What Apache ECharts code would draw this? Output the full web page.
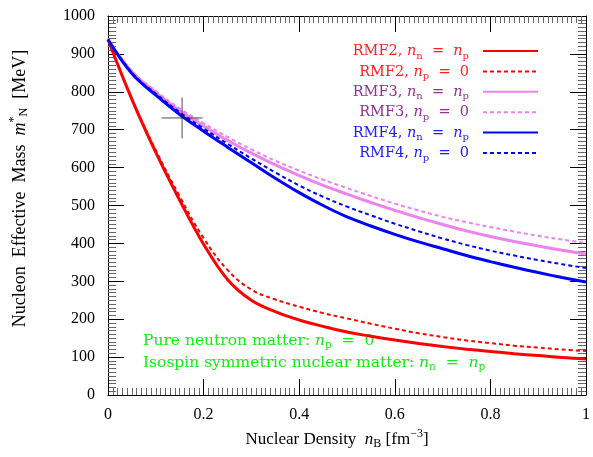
<!DOCTYPE html>
<html>
<head>
<meta charset="UTF-8">
<title>Nucleon effective mass</title>
<style>
  html, body { margin: 0; padding: 0; width: 100%; height: 100%; background: #fff; }
</style>
<script src="https://cdn.jsdelivr.net/npm/echarts@6/dist/echarts.min.js"></script>
</head>
<body>
<div id="main" style="width: 593px; height: 457px;"></div>
<script>
  // density grid [fm^-3]
  var density = [0, 0.05, 0.1, 0.15, 0.2, 0.25, 0.3, 0.35, 0.4, 0.45, 0.5, 0.55, 0.6, 0.65, 0.7, 0.75, 0.8, 0.85, 0.9, 0.95, 1.0];
  // effective mass [MeV]
  var rmf2Sym = [938, 780, 640, 514, 398, 305, 250, 220, 198, 181, 166, 155, 145, 136, 128, 121, 115, 109, 104, 99, 95];
  var rmf2Pnm = [938, 782, 646, 524, 414, 330, 278, 252, 233, 216, 202, 188, 175, 163, 153, 144, 137, 130, 125, 120, 116];
  var rmf3Sym = [938, 853, 798, 750, 710, 672, 638, 607, 579, 553, 530, 508, 487, 468, 450, 433, 418, 405, 393, 382, 372];
  var rmf3Pnm = [938, 855, 802, 756, 717, 681, 648, 618, 592, 568, 546, 525, 505, 487, 470, 456, 443, 431, 420, 410, 401];
  var rmf4Sym = [938, 848, 791, 740, 696, 654, 613, 572, 534, 500, 470, 446, 424, 404, 386, 368, 352, 337, 323, 310, 298];
  var rmf4Pnm = [938, 850, 795, 746, 703, 663, 624, 587, 553, 523, 497, 474, 452, 432, 413, 396, 381, 368, 356, 345, 335];
  // saturation point marker
  var satPoint = [[0.155, 731]];

  var xTicks = ['0', '0.2', '0.4', '0.6', '0.8', '1'];
  var yTicks = ['0', '100', '200', '300', '400', '500', '600', '700', '800', '900', '1000'];

  var serif = '"Liberation Serif", "DejaVu Serif", serif';
  var wide = '"DejaVu Serif", "Liberation Serif", serif';

  function pairs(ys) {
    return density.map(function (x, i) { return [x, ys[i]]; });
  }

  // rich text pieces: t = text, i = italic, s = subscript, u = superscript
  function makeRich(font, size, small) {
    return {
      t: { fontFamily: font, fontSize: size, verticalAlign: 'top', padding: [3, 0, 0, 0] },
      i: { fontFamily: font, fontSize: size, fontStyle: 'italic', verticalAlign: 'top', padding: [3, 0, 0, 0] },
      s: { fontFamily: font, fontSize: small, verticalAlign: 'top', padding: [10, 0, 0, 0] },
      u: { fontFamily: font, fontSize: small, verticalAlign: 'top', padding: [0, 0, 0, 0] }
    };
  }
  var axisRich = makeRich(serif, 17, 12);
  var yNameRich = makeRich(serif, 18, 12);
  var textRich = makeRich(wide, 14.5, 10);
  var noteRich = makeRich(wide, 15.5, 10.5);

  var symLabel = '{i|n}{s|n}{t|  =  }{i|n}{s|p}';
  var pnmLabel = '{i|n}{s|p}{t|  =  0}';

  var seriesDefs = [
    { name: 'RMF2, sym', label: '{t|RMF2, }' + symLabel, data: rmf2Sym, color: '#ff0000', text: '#ff2020', width: 3, type: 'solid' },
    { name: 'RMF2, pnm', label: '{t|RMF2, }' + pnmLabel, data: rmf2Pnm, color: '#ff0000', text: '#ff2020', width: 2, type: [4, 3] },
    { name: 'RMF3, sym', label: '{t|RMF3, }' + symLabel, data: rmf3Sym, color: '#ee82ee', text: '#943094', width: 3, type: 'solid' },
    { name: 'RMF3, pnm', label: '{t|RMF3, }' + pnmLabel, data: rmf3Pnm, color: '#ee82ee', text: '#943094', width: 2, type: [4, 3] },
    { name: 'RMF4, sym', label: '{t|RMF4, }' + symLabel, data: rmf4Sym, color: '#0000ff', text: '#2020ff', width: 3, type: 'solid' },
    { name: 'RMF4, pnm', label: '{t|RMF4, }' + pnmLabel, data: rmf4Pnm, color: '#0000ff', text: '#2020ff', width: 2, type: [4, 3] }
  ];

  var labelByName = {};
  seriesDefs.forEach(function (d) { labelByName[d.name] = d.label; });

  var series = seriesDefs.map(function (d) {
    return {
      name: d.name,
      type: 'line',
      xAxisIndex: 0,
      yAxisIndex: 0,
      data: pairs(d.data),
      smooth: 0.4,
      symbol: 'none',
      lineStyle: { color: d.color, width: d.width, type: d.type },
      itemStyle: { color: d.color },
      z: 3
    };
  });

  series.push({
    name: 'saturation',
    type: 'scatter',
    data: satPoint,
    symbol: 'path://M0,20 L40,20 M20,0 L20,40',
    symbolSize: 41,
    itemStyle: { color: 'none', borderColor: '#222', borderWidth: 1 },
    silent: true,
    z: 4
  });

  function xAxisDef(pos, showLabel) {
    return {
      type: 'value', position: pos, min: 0, max: 1, interval: 0.2,
      axisLine: { show: true, onZero: false, lineStyle: { color: '#000', width: 1 } },
      axisTick: { show: true, inside: true, length: 16, lineStyle: { color: '#000', width: 1 } },
      minorTick: { show: true, splitNumber: 20, length: 7, lineStyle: { color: '#666', width: 1 } },
      splitLine: { show: false },
      axisLabel: {
        show: showLabel, margin: 12, color: '#000', fontFamily: serif, fontSize: 16,
        formatter: function (v) { return xTicks[Math.round(v / 0.2)]; }
      }
    };
  }

  function yAxisDef(pos, showLabel) {
    return {
      type: 'value', position: pos, min: 0, max: 1000, interval: 100,
      axisLine: { show: true, onZero: false, lineStyle: { color: '#000', width: 1 } },
      axisTick: { show: true, inside: true, length: 16, lineStyle: { color: '#000', width: 1 } },
      minorTick: { show: true, splitNumber: 10, length: 8, lineStyle: { color: '#666', width: 1 } },
      splitLine: { show: false },
      axisLabel: {
        show: showLabel, margin: 13, color: '#000', fontFamily: serif, fontSize: 16,
        formatter: function (v) { return yTicks[Math.round(v / 100)]; }
      }
    };
  }

  var xBottom = xAxisDef('bottom', true);
  xBottom.name = '{t|Nuclear Density  }{i|n}{s|B}{t| [fm}{u|−3}{t|]}';
  xBottom.nameLocation = 'middle';
  xBottom.nameGap = 33;
  xBottom.nameTextStyle = { color: '#000', rich: axisRich, padding: [0, 20, 0, 0] };

  var yLeft = yAxisDef('left', true);
  yLeft.name = '{t|Nucleon  Effective  Mass  }{i|m}{u|*}{s|N}{t|  [MeV]}';
  yLeft.nameLocation = 'middle';
  yLeft.nameGap = 78;
  yLeft.nameRotate = 90;
  yLeft.nameTextStyle = { color: '#000', rich: yNameRich, padding: [0, 0, 0, 34] };

  var chart = echarts.init(document.getElementById('main'));
  chart.setOption({
    animation: false,
    backgroundColor: '#fff',
    grid: { left: 108, right: 4, top: 16, bottom: 62 },
    xAxis: [xBottom, xAxisDef('top', false)],
    yAxis: [yLeft, yAxisDef('right', false)],
    legend: {
      orient: 'vertical',
      right: 49,
      top: 39,
      align: 'right',
      itemWidth: 55,
      itemHeight: 14,
      itemGap: 3.4,
      itemStyle: { opacity: 0 },
      data: seriesDefs.map(function (d) {
        return { name: d.name, textStyle: { color: d.text } };
      }),
      formatter: function (name) { return labelByName[name]; },
      textStyle: { rich: textRich, padding: [0, 9, 0, 0] }
    },
    graphic: [
      {
        type: 'text', left: 143, top: 333,
        style: {
          text: '{t|Pure neutron matter: }' + pnmLabel,
          rich: noteRich, fill: '#11ee11'
        }
      },
      {
        type: 'text', left: 143, top: 355,
        style: {
          text: '{t|Isospin symmetric nuclear matter: }' + symLabel,
          rich: noteRich, fill: '#11ee11'
        }
      }
    ],
    series: series
  });
</script>
</body>
</html>
